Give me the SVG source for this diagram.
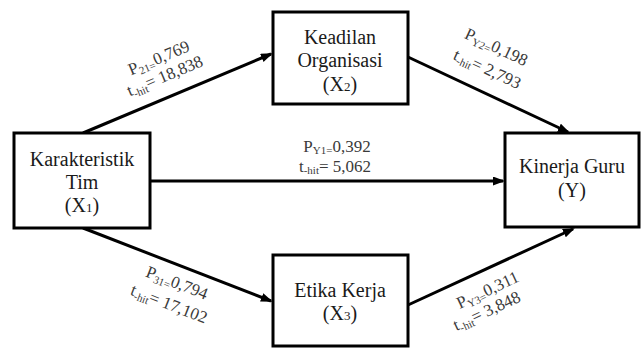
<svg xmlns="http://www.w3.org/2000/svg" width="643" height="348" viewBox="0 0 643 348" font-family="Liberation Serif, Times New Roman, serif">
<style>
.box{fill:#fff;stroke:#000;stroke-width:3}
.nt{font-size:20px;fill:#1a1a1a;text-anchor:middle}
.lb{font-size:17px;fill:#3a3a3a;text-anchor:middle}
.sb{font-size:11px}
.ns{font-size:13px}
.ln{stroke:#000;stroke-width:3;fill:none;marker-end:url(#ah)}
</style>
<defs>
<marker id="ah" markerUnits="userSpaceOnUse" markerWidth="14" markerHeight="10" refX="10" refY="4.5" orient="auto">
<path d="M0,0 L12,4.5 L0,9 z" fill="#000"/>
</marker>
</defs>
<rect width="643" height="348" fill="#fff"/>
<g id="connectors">
<path class="ln" d="M83,133 L271,54"/>
<path class="ln" d="M408,57 L568,132"/>
<path class="ln" d="M150,181 L503,181"/>
<path class="ln" d="M83,228 L271,301"/>
<path class="ln" d="M408,305 L573,229"/>
</g>
<g id="labels">
<text class="lb" transform="translate(161,63) rotate(-22.8)">P<tspan class="sb" dy="3">21=</tspan><tspan dy="-3">0,769</tspan></text>
<text class="lb" transform="translate(167,81) rotate(-22.8)">t<tspan class="sb" dy="3">-hit</tspan><tspan dy="-3">= 18,838</tspan></text>
<text class="lb" transform="translate(494,52) rotate(25.1)">P<tspan class="sb" dy="3">Y2=</tspan><tspan dy="-3">0,198</tspan></text>
<text class="lb" transform="translate(485,74) rotate(25.1)">t<tspan class="sb" dy="3">-hit</tspan><tspan dy="-3">= 2,793</tspan></text>
<text class="lb" x="337" y="152">P<tspan class="sb" dy="2">Y1=</tspan><tspan dy="-2">0,392</tspan></text>
<text class="lb" x="335" y="172">t<tspan class="sb" dy="2">-hit</tspan><tspan dy="-2">= 5,062</tspan></text>
<text class="lb" transform="translate(175,288) rotate(21.3)">P<tspan class="sb" dy="3">31=</tspan><tspan dy="-3">0,794</tspan></text>
<text class="lb" transform="translate(167,309) rotate(21.3)">t<tspan class="sb" dy="3">-hit</tspan><tspan dy="-3">= 17,102</tspan></text>
<text class="lb" transform="translate(490,295) rotate(-24.8)">P<tspan class="sb" dy="3">Y3=</tspan><tspan dy="-3">0,311</tspan></text>
<text class="lb" transform="translate(489,316) rotate(-24.8)">t<tspan class="sb" dy="3">-hit</tspan><tspan dy="-3">= 3,848</tspan></text>
</g>
<g id="X1">
<rect class="box" x="14" y="133" width="136" height="95"/>
<text class="nt" x="82" y="166">Karakteristik</text>
<text class="nt" x="82" y="189">Tim</text>
<text class="nt" x="82" y="212">(X<tspan class="ns">1</tspan>)</text>
</g>
<g id="X2">
<rect class="box" x="273" y="12" width="135" height="92"/>
<text class="nt" x="340" y="44">Keadilan</text>
<text class="nt" x="340" y="67">Organisasi</text>
<text class="nt" x="340" y="91">(X<tspan class="ns">2</tspan>)</text>
</g>
<g id="Y">
<rect class="box" x="505" y="133" width="134" height="94"/>
<text class="nt" x="572" y="173">Kinerja Guru</text>
<text class="nt" x="572" y="197">(Y)</text>
</g>
<g id="X3">
<rect class="box" x="273" y="255" width="135" height="91"/>
<text class="nt" x="340" y="297">Etika Kerja</text>
<text class="nt" x="340" y="320">(X<tspan class="ns">3</tspan>)</text>
</g>
</svg>
